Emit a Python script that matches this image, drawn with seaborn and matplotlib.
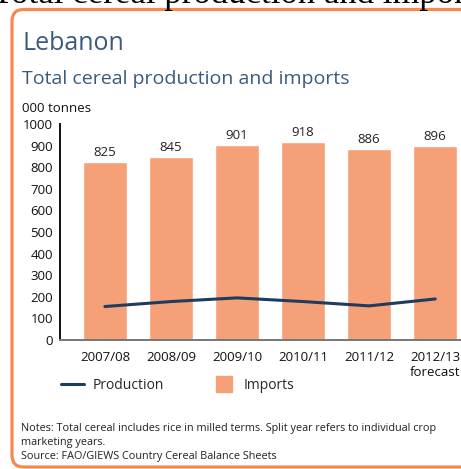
import numpy as np
import pandas as pd
import matplotlib
matplotlib.use("Agg")
import matplotlib.pyplot as plt
import seaborn as sns
from matplotlib.lines import Line2D
from matplotlib.patches import FancyBboxPatch

# data
seasons = ["2007/08", "2008/09", "2009/10", "2010/11", "2011/12", "2012/13\nforecast"]
imports = [825, 845, 901, 918, 886, 896]
production = [155, 178, 195, 178, 158, 190]
y_ticks = [0, 100, 200, 300, 400, 500, 600, 700, 800, 900, 1000]

bar_col = "#f5a077"
line_col = "#1d3c5e"
title_col = "#3b5b7c"
frame_col = "#f5894e"

sns.set_theme(style="white")
plt.rcParams["font.family"] = ["Open Sans", "DejaVu Sans"]

W, H = 461, 469
fig = plt.figure(figsize=(4.61, 4.69), dpi=100)
ax = fig.add_axes([60 / W, 1 - 340 / H, 1 - 60 / W, 216 / H])

df = pd.DataFrame({"season": seasons, "imports": imports})
sns.barplot(data=df, x="season", y="imports", color=bar_col, saturation=1,
            width=0.67, ax=ax)
sns.lineplot(x=np.arange(len(production)), y=production, color=line_col,
             linewidth=2.2, ax=ax)

for i, v in enumerate(imports):
    ax.text(i, v + 14, str(v), ha="center", va="bottom", fontsize=9.5, color="#222222")

ax.set_xlim(-0.68, 5.39)
ax.set_ylim(0, 1000)
ax.set_yticks(y_ticks)
ax.set_yticklabels([str(t) for t in y_ticks])
ax.tick_params(axis="both", length=0, labelsize=9.5, colors="#111111")
ax.tick_params(axis="x", pad=8)
ax.tick_params(axis="y", pad=5)
ax.set_xlabel("")
ax.set_ylabel("")
for s in ["top", "right"]:
    ax.spines[s].set_visible(False)
ax.spines["left"].set_color("#111111")
ax.spines["left"].set_linewidth(1.4)
ax.spines["bottom"].set_color("#777777")
ax.spines["bottom"].set_linewidth(1.4)

# legend
handles = [Line2D([], [], color=line_col, lw=2.2),
           Line2D([], [], color=bar_col, marker="s", markersize=11.5, linestyle="none")]
fig.legend(handles, ["Production", "Imports"], loc="center left",
           bbox_to_anchor=(0.106, 1 - 385 / H), ncol=2, frameon=False,
           fontsize=10, handlelength=1.65, handletextpad=0.6, columnspacing=3.5)

# titles
fig.text(22 / W, 1 - 50 / H, "Lebanon", fontsize=18, color=title_col, va="baseline")
fig.text(22 / W, 1 - 84 / H, "Total cereal production and imports", fontsize=14,
         color=title_col, va="baseline")
fig.text(22 / W, 1 - 112 / H, "000 tonnes", fontsize=9.5, color="#111111", va="baseline")

# clipped heading from the page above (only its lower edge shows)
fig.text(-42 / W, 1 - 3 / H, "6. Total cereal production and imports", fontsize=25,
         family="Liberation Serif", color="black", va="baseline")

# notes
notes = ["Notes: Total cereal includes rice in milled terms. Split year refers to individual crop",
         "marketing years.",
         "Source: FAO/GIEWS Country Cereal Balance Sheets"]
for k, line in enumerate(notes):
    fig.text(21 / W, 1 - (431 + 14 * k) / H, line, fontsize=7.8, color="#222222",
             va="baseline")

# orange frame
frame = FancyBboxPatch((12 / W, 1 - 467 / H), 1.2, (467 - 9.5) / H,
                       boxstyle="round,pad=0,rounding_size=0.025",
                       transform=fig.transFigure, facecolor="none",
                       edgecolor=frame_col, linewidth=2.3, clip_on=False)
fig.patches.append(frame)

fig.savefig("out.png", dpi=100)
